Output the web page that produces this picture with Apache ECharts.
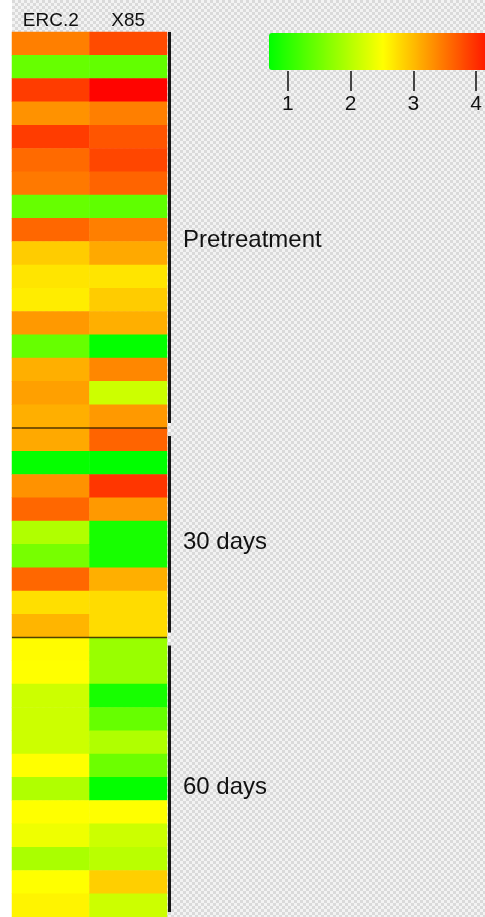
<!DOCTYPE html>
<html>
<head>
<meta charset="utf-8">
<style>
  html, body { margin: 0; padding: 0; background: #fff; }
  #chart { width: 485px; height: 917px; }
</style>
<script src="https://cdn.jsdelivr.net/npm/echarts@6/dist/echarts.min.js"></script>
</head>
<body>
<div id="chart"></div>
<script>
// columns and row groups
const columns = ['ERC.2', 'X85']
const groupNames = ['Pretreatment', '30 days', '60 days']
const groupSizes = [17, 9, 12]

// values per row, top to bottom
const erc2 = [
  3.25, 1.38, 3.70, 3.13, 3.70, 3.39, 3.29, 1.38, 3.41, 2.74, 2.57, 2.52, 3.08, 1.38, 2.93, 3.03, 2.93,
  2.97, 0.73, 3.13, 3.41, 1.87, 1.49, 3.41, 2.61, 2.89,
  2.42, 2.40, 2.06, 2.06, 2.06, 2.40, 1.87, 2.40, 2.29, 1.83, 2.40, 2.47
]
const x85 = [
  3.60, 1.35, 4.07, 3.25, 3.53, 3.63, 3.43, 1.33, 3.25, 2.97, 2.57, 2.74, 2.93, 0.72, 3.20, 2.06, 3.08,
  3.43, 0.70, 3.74, 3.08, 0.85, 0.85, 2.93, 2.63, 2.63,
  1.72, 1.72, 0.85, 1.38, 1.87, 1.42, 0.72, 2.40, 2.06, 1.94, 2.72, 2.06
]

// colour scale
const scaleMin = 0.7
const scaleMax = 4.1
const legendTicks = [1, 2, 3, 4]

const FONT = '"Liberation Sans", Arial, sans-serif'

// row labels and cell data
const rowLabels = erc2.map((v, i) => String(i + 1))
const cells = []
erc2.forEach((v, i) => cells.push([0, i, v]))
x85.forEach((v, i) => cells.push([1, i, v]))

// group ranges [startRow, endRow]
const groupRanges = []
let acc = 0
groupSizes.forEach(n => {
  groupRanges.push([acc, acc + n - 1])
  acc += n
})

// checker background like a transparent image
const makeChecker = () => {
  const c = document.createElement('canvas')
  c.width = 6
  c.height = 6
  const ctx = c.getContext('2d')
  ctx.fillStyle = '#f3f3f3'
  ctx.fillRect(0, 0, 6, 6)
  ctx.fillStyle = '#dadada'
  ctx.fillRect(0, 0, 3, 3)
  ctx.fillRect(3, 3, 3, 3)
  return c
}

const chart = echarts.init(document.getElementById('chart'), null, { renderer: 'canvas' })

const option = {
  animation: false,
  backgroundColor: { image: makeChecker(), repeat: 'repeat' },
  graphic: [
    { type: 'rect', left: 0, top: 0, shape: { width: 12, height: 917 }, style: { fill: '#fff' }, z: -1 }
  ],
  grid: [
    { left: 12, top: 32, width: 155, height: 889 },
    { left: 269, top: 70, width: 228, height: 1 }
  ],
  xAxis: [
    {
      gridIndex: 0,
      type: 'category',
      position: 'top',
      data: columns,
      axisLine: { show: false },
      axisTick: { show: false },
      axisLabel: { color: '#111', fontFamily: FONT, fontSize: 19, margin: 2 }
    },
    {
      gridIndex: 1,
      type: 'value',
      min: scaleMin,
      max: scaleMax,
      splitLine: { show: false },
      axisLine: { show: false },
      axisTick: {
        show: true,
        length: 20,
        customValues: legendTicks,
        lineStyle: { color: '#444', width: 2 }
      },
      axisLabel: {
        customValues: legendTicks,
        color: '#111',
        fontFamily: FONT,
        fontSize: 21,
        margin: 23
      }
    }
  ],
  yAxis: [
    {
      gridIndex: 0,
      type: 'category',
      data: rowLabels,
      inverse: true,
      show: false
    },
    {
      gridIndex: 1,
      type: 'value',
      show: false
    }
  ],
  visualMap: {
    type: 'continuous',
    seriesIndex: 0,
    min: scaleMin,
    max: scaleMax,
    orient: 'horizontal',
    left: 269,
    top: 33,
    padding: 0,
    itemWidth: 37,
    itemHeight: 228,
    calculable: false,
    hoverLink: false,
    text: null,
    inRange: { color: ['#00ff00', '#ffff00', '#ff0000'] }
  },
  series: [
    {
      type: 'heatmap',
      xAxisIndex: 0,
      yAxisIndex: 0,
      data: cells,
      itemStyle: { borderWidth: 0 },
      emphasis: { disabled: true }
    },
    {
      // group brackets, separators and labels
      type: 'custom',
      xAxisIndex: 0,
      yAxisIndex: 0,
      data: groupRanges,
      silent: true,
      z: 5,
      renderItem: (params, api) => {
        const start = api.value(0)
        const end = api.value(1)
        const band = api.size([1, 1])
        const topC = api.coord([0, start])
        const botC = api.coord([1, end])
        const x0 = topC[0] - band[0] / 2
        const x1 = botC[0] + band[0] / 2
        const y0 = topC[1] - band[1] / 2
        const y1 = botC[1] + band[1] / 2
        const children = [
          {
            type: 'line',
            shape: { x1: x1 + 2.5, y1: y0 + (start > 0 ? 8 : 0), x2: x1 + 2.5, y2: y1 - 5 },
            style: { stroke: '#151515', lineWidth: 3 }
          },
          {
            type: 'text',
            style: {
              x: x1 + 16,
              y: (y0 + y1) / 2 + 10,
              text: groupNames[params.dataIndex],
              fill: '#111',
              font: '24px ' + FONT,
              verticalAlign: 'middle',
              align: 'left'
            }
          }
        ]
        if (start > 0) {
          children.push({
            type: 'line',
            shape: { x1: x0, y1: y0, x2: x1, y2: y0 },
            style: { stroke: 'rgba(50,35,0,0.85)', lineWidth: 1.5 }
          })
        }
        return { type: 'group', children }
      }
    }
  ]
}

chart.setOption(option)
</script>
</body>
</html>
